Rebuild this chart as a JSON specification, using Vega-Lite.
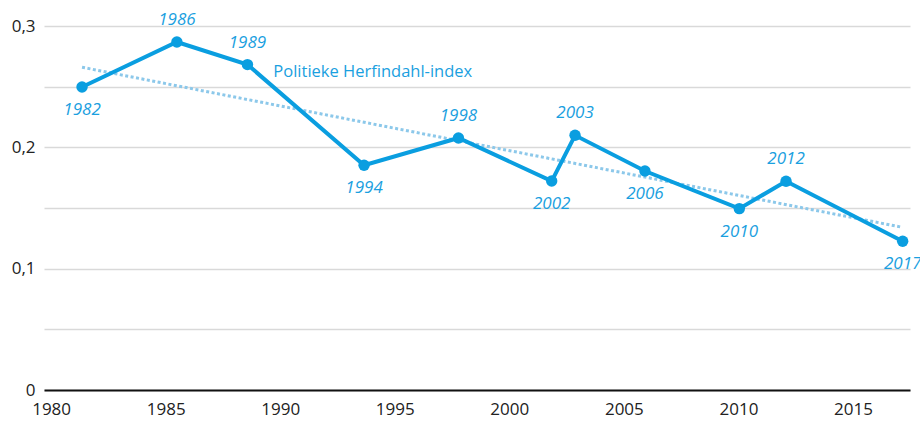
{
  "$schema": "https://vega.github.io/schema/vega-lite/v6.json",
  "width": 866,
  "height": 364,
  "autosize": "none",
  "padding": {"left": 44, "top": 26, "right": 10, "bottom": 33},
  "background": "white",
  "config": {"view": {"stroke": null}, "font": "Open Sans"},
  "datasets": {
    "verkiezingen": [
      {"jaar": "1982", "x": 1981.35, "y": 0.2497, "plaats": "onder"},
      {"jaar": "1986", "x": 1985.49, "y": 0.2868, "plaats": "boven"},
      {"jaar": "1989", "x": 1988.57, "y": 0.2682, "plaats": "boven"},
      {"jaar": "1994", "x": 1993.66, "y": 0.1852, "plaats": "onder"},
      {"jaar": "1998", "x": 1997.78, "y": 0.2077, "plaats": "boven"},
      {"jaar": "2002", "x": 2001.85, "y": 0.1722, "plaats": "onder"},
      {"jaar": "2003", "x": 2002.87, "y": 0.2099, "plaats": "boven"},
      {"jaar": "2006", "x": 2005.92, "y": 0.1805, "plaats": "onder"},
      {"jaar": "2010", "x": 2010.04, "y": 0.1495, "plaats": "onder"},
      {"jaar": "2012", "x": 2012.08, "y": 0.172, "plaats": "boven"},
      {"jaar": "2017", "x": 2017.17, "y": 0.1226, "plaats": "onder"}
    ],
    "trend": [{"x": 1981.35, "y": 0.266}, {"x": 2017.1, "y": 0.1343}],
    "label": [{"x": 1989.7, "y": 0.262, "tekst": "Politieke Herfindahl-index"}]
  },
  "data": {"name": "verkiezingen"},
  "encoding": {
    "x": {
      "field": "x",
      "type": "quantitative",
      "scale": {"domain": [1979.69, 2017.49], "nice": false, "zero": false},
      "axis": {
        "title": null,
        "values": [1980, 1985, 1990, 1995, 2000, 2005, 2010, 2015],
        "format": "d",
        "grid": false,
        "ticks": false,
        "domainColor": "#111111",
        "domainWidth": 2,
        "labelFontSize": 17,
        "labelColor": "#222222",
        "labelPadding": 11,
        "labelOverlap": false,
        "labelBound": false,
        "labelFlush": false,
        "zindex": 1
      }
    },
    "y": {
      "field": "y",
      "type": "quantitative",
      "scale": {"domain": [0, 0.3], "nice": false},
      "axis": {
        "title": null,
        "values": [0, 0.05, 0.1, 0.15, 0.2, 0.25, 0.3],
        "labelExpr": "datum.value == 0 ? '0' : (abs(datum.value*10 - round(datum.value*10)) < 0.001 ? replace(format(datum.value, '.1f'), '.', ',') : '')",
        "domain": false,
        "ticks": false,
        "grid": true,
        "gridColor": "#d9d9d9",
        "gridWidth": 1.5,
        "labelFontSize": 17,
        "labelColor": "#222222",
        "labelPadding": 9,
        "labelOverlap": false,
        "labelBound": false,
        "labelFlush": false
      }
    }
  },
  "layer": [
    {
      "data": {"name": "trend"},
      "mark": {"type": "line", "color": "#8cc8ea", "strokeWidth": 3, "strokeDash": [3, 2.5]}
    },
    {
      "mark": {"type": "line", "color": "#0a9ee0", "strokeWidth": 4}
    },
    {
      "mark": {"type": "circle", "color": "#0a9ee0", "size": 130, "opacity": 1}
    },
    {
      "transform": [{"filter": "datum.plaats == 'boven'"}],
      "mark": {"type": "text", "dy": -22, "fontStyle": "italic", "fontSize": 17, "color": "#1aa0e0", "baseline": "middle"},
      "encoding": {"text": {"field": "jaar", "type": "nominal"}}
    },
    {
      "transform": [{"filter": "datum.plaats == 'onder'"}],
      "mark": {"type": "text", "dy": 23, "fontStyle": "italic", "fontSize": 17, "color": "#1aa0e0", "baseline": "middle"},
      "encoding": {"text": {"field": "jaar", "type": "nominal"}}
    },
    {
      "data": {"name": "label"},
      "mark": {"type": "text", "align": "left", "baseline": "middle", "fontSize": 16.5, "color": "#1aa0e0"},
      "encoding": {"text": {"field": "tekst", "type": "nominal"}}
    }
  ]
}
